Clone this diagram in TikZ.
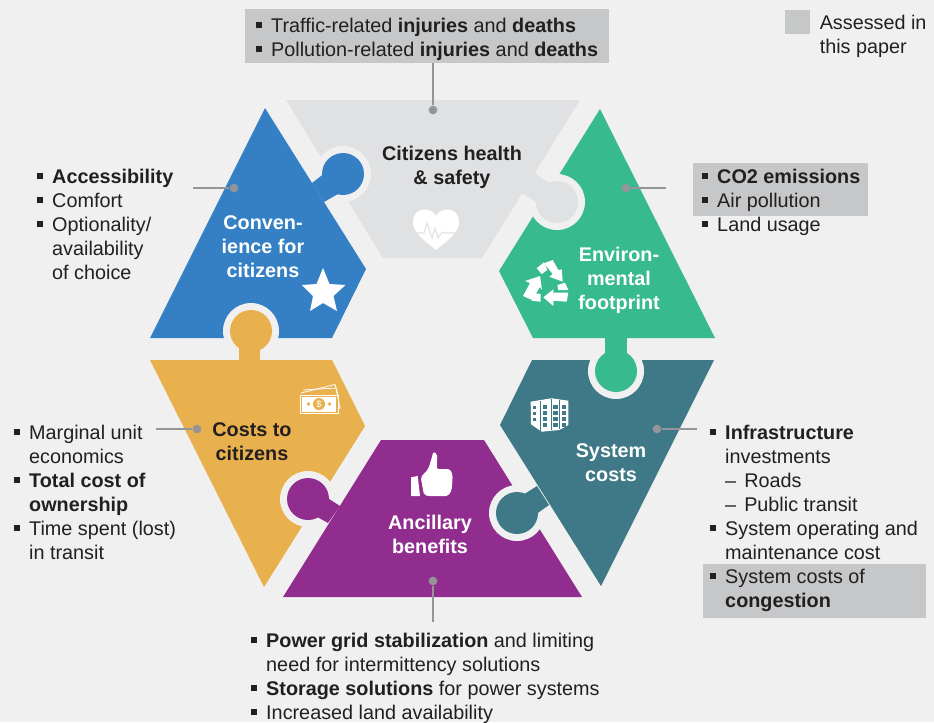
\documentclass[tikz,border=0pt]{standalone}
\usepackage{fontspec}
\setmainfont{Liberation Sans}
\definecolor{bgpage}{RGB}{240,240,240}
\definecolor{hlgrey}{RGB}{198,199,201}
\definecolor{healthgrey}{RGB}{224,225,227}
\definecolor{convblue}{RGB}{53,128,197}
\definecolor{envgreen}{RGB}{55,187,142}
\definecolor{costorange}{RGB}{233,176,78}
\definecolor{ancpurple}{RGB}{145,45,143}
\definecolor{systeal}{RGB}{63,120,134}
\definecolor{textdark}{RGB}{35,31,32}
\definecolor{dotgrey}{RGB}{147,149,152}
\tikzset{
  lead/.style={draw=dotgrey,line width=1.1pt},
  leaddot/.style={circle,fill=dotgrey,inner sep=0pt,minimum size=6.5pt},
  hlbox/.style={fill=hlgrey,draw=none},
  title/.style={font=\bfseries\fontsize{14.85}{18}\selectfont,align=center,text=white,inner sep=0pt},
  darktitle/.style={title,text=textdark},
  notes/.style={font=\fontsize{14.85}{18}\selectfont,align=left,anchor=north west,text=textdark,inner sep=0pt},
  icon/.style={fill=white,draw=none}
}
\newcommand{\bul}{\makebox[11.6pt][l]{\rule[3.2pt]{4.5pt}{4.5pt}}}
\newcommand{\ind}{\hspace*{11.6pt}}
\newcommand{\healthPiece}{(286,100) -- (580,100) -- (482,258) -- (383,258) -- cycle}
\newcommand{\convPiece}{(265,108) -- (366,269) -- (332,338) -- (150,338) -- cycle}
\newcommand{\envPiece}{(600,109) -- (715,338) -- (533,338) -- (499,271) -- cycle}
\newcommand{\costPiece}{(150,360) -- (332,360) -- (365,426) -- (264,587) -- cycle}
\newcommand{\ancPiece}{(381,440) -- (484,440) -- (582,597) -- (283,597) -- cycle}
\newcommand{\sysPiece}{(532,360) -- (714,360) -- (601,586) -- (500,425) -- cycle}
% #1 colour, #2 piece, #3 knob centre, #4 neck
\newcommand{\knob}[4]{
    \fill[bgpage] #3 circle (28);
    \begin{scope}
        \clip #3 circle (28);
        \fill[#1] #2;
    \end{scope}
    \fill[#1] #4;
    \fill[#1] #3 circle (21);
}
\begin{document}
\begin{tikzpicture}[x=0.75pt,y=-0.75pt]
    \useasboundingbox[fill=bgpage] (0,0) rectangle (934,722);
    % grey boxes
    \fill[hlbox] (245,9) rectangle (609,63);
    \fill[hlbox] (785,10) rectangle (810,34);
    \fill[hlbox] (693,163) rectangle (868,216);
    \fill[hlbox] (703,564) rectangle (926,618);
    % puzzle pieces
    \fill[healthgrey] \healthPiece;
    \fill[convblue] \convPiece;
    \fill[envgreen] \envPiece;
    \fill[costorange] \costPiece;
    \fill[ancpurple] \ancPiece;
    \fill[systeal] \sysPiece;
    % knobs
    \knob{convblue}{\convPiece}{(343,174)}{(312,183) -- (324,202) -- (345,190) -- (335,165) -- cycle}
    \knob{healthgrey}{\healthPiece}{(557,202)}{(535,173) -- (522,193) -- (545,208) -- (556,188) -- cycle}
    \knob{envgreen}{\envPiece}{(616,371)}{(605,338) rectangle (627,360)}
    \knob{systeal}{\sysPiece}{(517,513)}{(537,486) -- (549,505) -- (528,520) -- (515,500) -- cycle}
    \knob{ancpurple}{\ancPiece}{(308,499)}{(340,506) -- (328,523) -- (305,510) -- (315,490) -- cycle}
    \knob{costorange}{\costPiece}{(251,331)}{(239,360) rectangle (260,340)}
    % titles
    \node[darktitle] (healthTitle) at (452,167) {Citizens health\\\& safety};
    \node[title] (convTitle) at (263,247) {Conven-\\ience for\\citizens};
    \node[title] (envTitle) at (619,280) {Environ-\\mental\\footprint};
    \node[darktitle] (costTitle) at (252,442) {Costs to\\citizens};
    \node[title] (sysTitle) at (611,463) {System\\costs};
    \node[title] (ancTitle) at (430,534) {Ancillary\\benefits};
    % leaders
    \node[leaddot] (healthDot) at (433,110) {};
    \coordinate (healthEnd) at (433,63);
    \draw[lead] (healthDot) -- (healthEnd);
    \node[leaddot] (convDot) at (234,188) {};
    \coordinate (convEnd) at (193,188);
    \draw[lead] (convDot) -- (convEnd);
    \node[leaddot] (envDot) at (626,188) {};
    \coordinate (envEnd) at (666,188);
    \draw[lead] (envDot) -- (envEnd);
    \node[leaddot] (costDot) at (197,429) {};
    \coordinate (costEnd) at (156,429);
    \draw[lead] (costDot) -- (costEnd);
    \node[leaddot] (sysDot) at (657,429) {};
    \coordinate (sysEnd) at (697,429);
    \draw[lead] (sysDot) -- (sysEnd);
    \node[leaddot] (ancDot) at (433,581) {};
    \coordinate (ancEnd) at (433,622);
    \draw[lead] (ancDot) -- (ancEnd);
    % notes
    \node[notes] (healthNotes) at (255.5,18) {\bul Traffic-related \textbf{injuries} and \textbf{deaths}\\\bul Pollution-related \textbf{injuries} and \textbf{deaths}};
    \node[notes] (legendNote) at (819.5,14.5) {Assessed in\\this paper};
    \node[notes] (convNotes) at (36.5,168.5) {\bul\textbf{Accessibility}\\\bul Comfort\\\bul Optionality/\\\ind availability\\\ind of choice};
    \node[notes] (envNotes) at (701.5,168.5) {\bul\textbf{CO2 emissions}\\\bul Air pollution\\\bul Land usage};
    \node[notes] (costNotes) at (13.5,425) {\bul Marginal unit\\\ind economics\\\bul\textbf{Total cost of}\\\ind\textbf{ownership}\\\bul Time spent (lost)\\\ind in transit};
    \node[notes] (sysNotes) at (709.5,425) {\bul\textbf{Infrastructure}\\\ind investments\\\ind --\hspace{6pt}Roads\\\ind --\hspace{6pt}Public transit\\\bul System operating and\\\ind maintenance cost\\\bul System costs of\\\ind\textbf{congestion}};
    \node[notes] (ancNotes) at (250.5,633) {\bul\textbf{Power grid stabilization} and limiting\\\ind need for intermittency solutions\\\bul\textbf{Storage solutions} for power systems\\\bul Increased land availability};
    % heart
    \fill[icon] (436,250) .. controls (425,241) and (413,233) .. (413,222) .. controls (413,207) and (431,206) .. (436,216) .. controls (441,206) and (459,207) .. (459,222) .. controls (459,233) and (447,241) .. (436,250) -- cycle;
    \draw[healthgrey,line width=0.8pt] (413,233) -- (424,233) -- (427,223) -- (432,238) -- (435,228) -- (438,238) -- (442,232) -- (445,233) -- (459,233);
    % star
    \fill[icon] (323,268) -- (329.5,284) -- (345.5,285) -- (333.5,296) -- (337,311) -- (323,303) -- (310,311) -- (313,296) -- (302,285) -- (316.5,284) -- cycle;
    % recycle
    \fill[icon] (540,276) -- (525,281) -- (530,283) -- (523,296) -- (532,300) -- (540,287) -- (542,290) -- cycle;
    \fill[icon] (535,293.3) -- (540.7,294) -- (540.7,301.7) -- (531.7,300.7) -- cycle;
    \fill[icon] (544,263.3) -- (552.7,260) -- (558.3,270) -- (561.7,269.3) -- (562.7,281.7) -- (549.3,276.7) -- (552.7,274) -- cycle;
    \fill[icon] (536.7,268.3) -- (544,262.3) -- (547.3,270) -- (541.7,274) -- cycle;
    \fill[icon] (557.3,285) -- (565,282.7) -- (568.3,290) -- (558.3,290) -- cycle;
    \fill[icon] (543.3,297.3) -- (553.3,289.3) -- (553.3,292.7) -- (568.3,292.7) -- (566.7,301.7) -- (553.3,300.7) -- (553.3,306) -- cycle;
    % money
    \draw[white,line width=0.6pt] (301,393) -- (335,384.5) -- (338,395);
    \draw[white,line width=0.6pt] (303,390) -- (336,388) -- (340,408) -- (338,409);
    \draw[white,line width=0.6pt] (300,395) rectangle (338,413.5);
    \fill[icon] (302,397) rectangle (336,411.5);
    \fill[costorange] (319,404) circle (6);
    \fill[costorange] (308.5,404) circle (1.8);
    \fill[costorange] (329.5,404) circle (1.8);
    \node[text=white,inner sep=0pt,font=\fontsize{7}{7}\selectfont] (moneySign) at (319,404) {\$};
    % thumb
    \fill[icon] (411,477.3) -- (417.7,476) -- (420,496) -- (411,496) -- cycle;
    \fill[icon,rounded corners=1.5pt] (433.3,451.7) -- (437.3,454) -- (436.7,469) -- (450,469) -- (452.7,475) -- (451.7,490) -- (448.3,496) -- (428.3,496) -- (424,495) -- (420.7,477.3) -- (428.3,469) -- (431.7,458) -- cycle;
    % building
    \fill[icon] (530.7,401.7) -- (540.7,400) -- (551.7,398.3) -- (568.3,400.7) -- (568.3,425) -- (559.3,430) -- (541.7,431.7) -- (531,424.3) -- cycle;
    \foreach \y in {406,412,418}
        \fill[systeal] (533,\y) rectangle ++(3,3);
    \foreach \y in {404.5,410.5,416.5,423}
        \foreach \x in {542.7,553.3,561.7}
            \fill[systeal] (\x,\y) rectangle ++(4.5,4);
    \draw[systeal,line width=0.4pt] (540,401) -- (540,431) (551,399) -- (551,430) (559.5,400) -- (559.5,429);
\end{tikzpicture}
\end{document}
